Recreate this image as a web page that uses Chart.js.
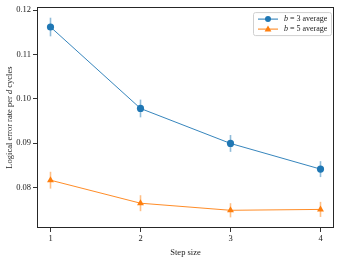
<!DOCTYPE html>
<html><head><meta charset="utf-8">
<script src="https://cdn.jsdelivr.net/npm/chart.js@4"></script>
<style>html,body{margin:0;padding:0;background:#fff}#w{width:341px;height:258px}</style>
</head><body><div id="w"><canvas id="c"></canvas></div>
<script>
const stepSizes = [1, 2, 3, 4];
const b3Mean = [0.1162, 0.0978, 0.0899, 0.0841];
const b3Err = [0.0021, 0.0020, 0.0019, 0.0018];
const b5Mean = [0.0816, 0.0764, 0.0748, 0.0750];
const b5Err = [0.0019, 0.0018, 0.0016, 0.0017];
const yTicks = [0.08, 0.09, 0.10, 0.11, 0.12];
const xTicks = [1, 2, 3, 4];
const seriesNames = ['3', '5'];

const FONT = '"Liberation Serif", "DejaVu Serif", serif';
const BLUE = '#1f77b4', ORANGE = '#ff7f0e';

const errPlugin = {
  id: 'err',
  beforeDatasetsDraw(chart) {
    const ctx = chart.ctx, xs = chart.scales.x, ys = chart.scales.y;
    const sets = [[b3Mean, b3Err, 'rgba(31,119,180,0.5)'], [b5Mean, b5Err, 'rgba(255,127,14,0.5)']];
    ctx.save();
    ctx.lineWidth = 1.6;
    sets.forEach(([m, e, col]) => {
      ctx.strokeStyle = col;
      m.forEach((v, i) => {
        const x = xs.getPixelForValue(stepSizes[i]);
        ctx.beginPath();
        ctx.moveTo(x, ys.getPixelForValue(v - e[i]));
        ctx.lineTo(x, ys.getPixelForValue(v + e[i]));
        ctx.stroke();
      });
    });
    ctx.restore();
  },
  afterDraw(chart) {
    const ctx = chart.ctx, a = chart.chartArea;
    ctx.save();
    ctx.strokeStyle = '#262626';
    ctx.lineWidth = 1;
    ctx.strokeRect(Math.round(a.left) + 0.5, Math.round(a.top) + 0.5, Math.round(a.right - a.left) - 1, Math.round(a.bottom - a.top) - 1);
    ctx.fillStyle = '#222';
    ctx.textBaseline = 'middle';
    const parts = [['Logical error rate per ', 'normal'], ['d', 'italic'], [' cycles', 'normal']];
    let total = 0;
    parts.forEach(p => { ctx.font = p[1] + ' 8.5px ' + FONT; total += ctx.measureText(p[0]).width; });
    ctx.translate(10, (a.top + a.bottom) / 2);
    ctx.rotate(-Math.PI / 2);
    let x = -total / 2;
    ctx.textAlign = 'left';
    parts.forEach(p => { ctx.font = p[1] + ' 8.5px ' + FONT; ctx.fillText(p[0], x, 0); x += ctx.measureText(p[0]).width; });
    ctx.restore();
    ctx.save();
    const lx = a.right - 81, ly = a.top + 5, lw = 78, lh = 23;
    ctx.fillStyle = 'rgba(255,255,255,0.85)';
    ctx.strokeStyle = '#d0d0d0';
    ctx.lineWidth = 1;
    ctx.beginPath();
    ctx.roundRect(lx + 0.5, ly + 0.5, lw, lh, 2);
    ctx.fill(); ctx.stroke();
    const cols = [BLUE, ORANGE];
    seriesNames.forEach((n, i) => {
      const yy = ly + 7 + i * 10;
      const x0 = lx + 5, x1 = lx + 25;
      ctx.strokeStyle = cols[i]; ctx.lineWidth = 1;
      ctx.beginPath(); ctx.moveTo(x0, yy); ctx.lineTo(x1, yy); ctx.stroke();
      ctx.fillStyle = cols[i];
      const cx = (x0 + x1) / 2;
      ctx.beginPath();
      if (i === 0) { ctx.arc(cx, yy, 3, 0, Math.PI * 2); }
      else { ctx.moveTo(cx, yy - 3.6); ctx.lineTo(cx + 3.4, yy + 2.4); ctx.lineTo(cx - 3.4, yy + 2.4); ctx.closePath(); }
      ctx.fill();
      ctx.fillStyle = '#222'; ctx.textBaseline = 'middle'; ctx.textAlign = 'left';
      let tx = lx + 31;
      const segs = [['b', 'italic'], [' = ' + n + ' average', 'normal']];
      segs.forEach(s => { ctx.font = s[1] + ' 8px ' + FONT; ctx.fillText(s[0], tx, yy); tx += ctx.measureText(s[0]).width; });
    });
    ctx.restore();
  }
};

new Chart(document.getElementById('c'), {
  type: 'line',
  data: {
    datasets: [
      { label: 'b = 3 average', data: stepSizes.map((s, i) => ({ x: s, y: b3Mean[i] })), borderColor: BLUE, backgroundColor: BLUE, borderWidth: 0.9, pointRadius: 3.6, pointHoverRadius: 3.6, pointStyle: 'circle', pointBorderWidth: 0 },
      { label: 'b = 5 average', data: stepSizes.map((s, i) => ({ x: s, y: b5Mean[i] })), borderColor: ORANGE, backgroundColor: ORANGE, borderWidth: 0.9, pointRadius: 4, pointHoverRadius: 4, pointStyle: 'triangle', pointBorderWidth: 0 }
    ]
  },
  options: {
    responsive: true, maintainAspectRatio: false, animation: false,
    devicePixelRatio: 1,
    layout: { padding: { top: 6, right: 7, left: 0, bottom: 0 } },
    plugins: { legend: { display: false }, tooltip: { enabled: false } },
    scales: {
      x: {
        type: 'linear', min: 0.85, max: 4.15,
        afterBuildTicks: s => { s.ticks = xTicks.map(v => ({ value: v })); },
        afterFit: s => { s.height = 30; },
        grid: { display: true, drawOnChartArea: false, drawTicks: true, tickLength: 4, color: '#333' },
        border: { display: false },
        ticks: { color: '#222', font: { family: FONT, size: 8.5 }, padding: 2, maxRotation: 0, callback: v => String(v) },
        title: { display: true, text: 'Step size', color: '#222', font: { family: FONT, size: 8.5 }, padding: { top: 2, bottom: 0 } }
      },
      y: {
        type: 'linear', min: 0.0708, max: 0.1207,
        afterBuildTicks: s => { s.ticks = yTicks.map(v => ({ value: v })); },
        afterFit: s => { s.width = 37; },
        grid: { display: true, drawOnChartArea: false, drawTicks: true, tickLength: 4, color: '#333' },
        border: { display: false },
        ticks: { color: '#222', font: { family: FONT, size: 8.5 }, padding: 2, callback: v => v.toFixed(2) }
      }
    }
  },
  plugins: [errPlugin]
});
</script>
</body></html>
